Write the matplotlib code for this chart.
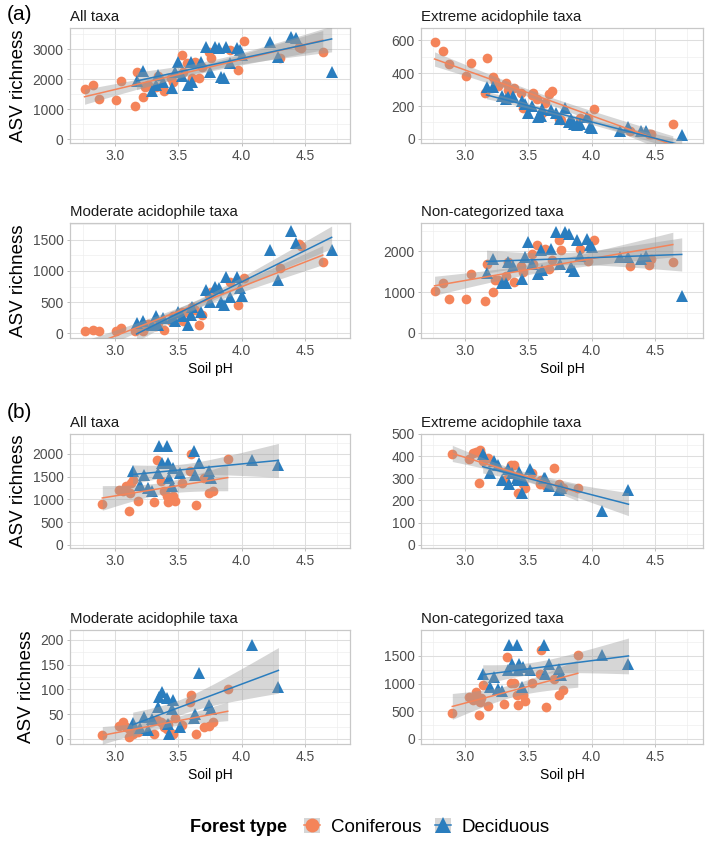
import numpy as np
import matplotlib.pyplot as plt
from matplotlib.patches import Rectangle
from matplotlib.lines import Line2D
from matplotlib.ticker import MultipleLocator

plt.rcParams['font.family'] = ['Liberation Sans', 'DejaVu Sans']

CONIF = "#F4845A"
DECID = "#2A7DBE"

# ---- (a) data ----
a_con_ph = [2.76, 2.83, 2.87, 3.01, 3.05, 3.16, 3.17, 3.22, 3.24, 3.26, 3.32, 3.34, 3.39, 3.44, 3.46, 3.53,
            3.54, 3.57, 3.61, 3.63, 3.66, 3.69, 3.74, 3.76, 3.91, 3.97, 4.02, 4.30, 4.45, 4.47, 4.64]
a_con_all = [1660, 1810, 1330, 1290, 1950, 1110, 2250, 1390, 1730, 1800, 1750, 2110, 1620, 2050, 1920, 2810,
             2250, 2550, 2030, 2590, 2030, 2400, 2920, 2700, 2980, 2310, 3290, 2700, 3090, 3050, 2920]
a_con_ext = [590, 535, 455, 385, 460, 280, 490, 375, 350, 320, 340, 300, 310, 280, 190, 270,
             280, 240, 160, 220, 275, 290, 120, 115, 125, 130, 180, 50, 30, 30, 90]
a_con_mod = [40, 60, 35, 40, 80, 40, 80, 40, 100, 150, 120, 170, 60, 200, 270, 350,
             190, 350, 430, 380, 130, 300, 620, 670, 830, 460, 890, 1050, 1430, 1400, 1140]
a_con_non = [1040, 1230, 840, 840, 1440, 790, 1690, 1010, 1310, 1290, 1400, 1730, 1260, 1650, 1500, 1940,
             1690, 2150, 1520, 2070, 1570, 1800, 2290, 2030, 2070, 1760, 2275, 1650, 1675, 1820, 1730]

a_dec_ph = [3.17, 3.22, 3.29, 3.32, 3.34, 3.38, 3.45, 3.47, 3.50, 3.53, 3.58, 3.60, 3.61, 3.68, 3.72,
            3.75, 3.79, 3.82, 3.84, 3.86, 3.88, 3.91, 3.96, 3.99, 4.00, 4.22, 4.29, 4.39, 4.43, 4.71]
a_dec_all = [1950, 2290, 1590, 1810, 2140, 1900, 1700, 2250, 2590, 2100, 1810, 2590, 1920, 2590, 3090,
             2250, 3090, 3030, 2090, 2030, 3090, 2530, 3030, 2975, 2800, 3250, 2750, 3420, 3370, 2250]
a_dec_ext = [315, 315, 260, 240, 255, 260, 230, 210, 160, 200, 135, 140, 180, 175, 160,
             120, 185, 105, 120, 90, 85, 90, 135, 75, 65, 45, 70, 45, 45, 25]
a_dec_mod = [160, 190, 135, 270, 135, 240, 240, 190, 350, 280, 135, 300, 420, 350, 700,
             510, 750, 725, 510, 450, 910, 590, 910, 725, 600, 1340, 860, 1640, 1450, 1340]
a_dec_non = [1480, 1815, 1230, 1230, 1730, 1650, 1320, 1860, 2230, 1700, 1440, 2025, 1550, 2070, 2480,
             1690, 2480, 2440, 1610, 1520, 2275, 1900, 2315, 2150, 2100, 1860, 1860, 1815, 1900, 900]

# ---- (b) data ----
b_con_ph = [2.90, 3.03, 3.06, 3.09, 3.11, 3.12, 3.13, 3.14, 3.18, 3.31, 3.33, 3.36, 3.39,
            3.41, 3.42, 3.46, 3.47, 3.53, 3.59, 3.60, 3.64, 3.70, 3.74, 3.77, 3.89]
b_con_all = [897, 1210, 1190, 1290, 735, 1140, 1360, 1433, 970, 933, 1874, 1396, 1176,
             1066, 933, 1066, 955, 1360, 1617, 2000, 882, 1470, 1140, 1176, 1896]
b_con_ext = [408, 385, 415, 420, 280, 426, 408, 378, 390, 294, 332, 362, 362,
             294, 234, 272, 257, 325, 272, 294, 265, 347, 272, 255, 254]
b_con_mod = [8, 27, 35, 25, 5, 18, 23, 11, 15, 11, 38, 35, 25,
             20, 30, 11, 42, 28, 75, 89, 11, 25, 27, 35, 100]
b_con_non = [462, 762, 702, 852, 432, 672, 732, 972, 600, 624, 1482, 1002, 1002,
             792, 612, 792, 684, 1002, 1182, 1602, 582, 1080, 792, 882, 1524]

b_dec_ph = [3.14, 3.20, 3.23, 3.26, 3.29, 3.34, 3.35, 3.37, 3.41, 3.42, 3.43, 3.45, 3.46, 3.51,
            3.62, 3.63, 3.66, 3.74, 3.76, 4.08, 4.29]
b_dec_all = [1617, 1323, 1544, 1250, 1190, 1580, 2168, 1800, 2168, 1800, 1470, 1286, 1690, 1580,
             2058, 1544, 1800, 1617, 1470, 1874, 1764]
b_dec_ext = [408, 325, 378, 360, 294, 340, 272, 325, 300, 294, 330, 234, 294, 340,
             302, 300, 264, 249, 255, 151, 249]
b_dec_mod = [32, 22, 45, 18, 40, 65, 85, 95, 82, 30, 11, 60, 79, 25,
             42, 50, 133, 69, 60, 190, 106]
b_dec_non = [1182, 942, 1122, 900, 864, 1242, 1704, 1362, 1704, 1242, 1362, 942, 1302, 1242,
             1692, 1182, 1362, 1272, 1152, 1512, 1362]

W, H = 709, 842


def t975(df):
    # Cornish-Fisher approximation of the 97.5% t quantile
    z = 1.959964
    return z + (z**3 + z) / (4 * df) + (5 * z**5 + 16 * z**3 + 3 * z) / (96 * df**2)


def lm_band(x, y):
    x = np.asarray(x, float)
    y = np.asarray(y, float)
    n = len(x)
    b, a = np.polyfit(x, y, 1)
    resid = y - (a + b * x)
    s = np.sqrt(np.sum(resid**2) / (n - 2))
    sxx = np.sum((x - x.mean())**2)
    xs = np.linspace(x.min(), x.max(), 80)
    fit = a + b * xs
    se = s * np.sqrt(1 / n + (xs - x.mean())**2 / sxx)
    t = t975(n - 2)
    return xs, fit, fit - t * se, fit + t * se


def add_ax(fig, left, top, right, bottom):
    return fig.add_axes([left / W, 1 - bottom / H, (right - left) / W, (bottom - top) / H])


def draw_panel(ax, title, cx, cy, dx, dy, xlim, ylim, ystep):
    ax.plot(cx, cy, 'o', color=CONIF, ms=7, mew=0, zorder=3)
    ax.plot(dx, dy, '^', color=DECID, ms=8.4, mew=0, zorder=3)
    for x, y, c in ((cx, cy, CONIF), (dx, dy, DECID)):
        xs, fit, lo, hi = lm_band(x, y)
        ax.fill_between(xs, lo, hi, color='#999999', alpha=0.4, lw=0, zorder=4)
        ax.plot(xs, fit, color=c, lw=1.1, zorder=5)

    ax.set_xlim(*xlim)
    ax.set_ylim(*ylim)
    ax.xaxis.set_major_locator(MultipleLocator(0.5))
    ax.xaxis.set_minor_locator(MultipleLocator(0.25))
    ax.yaxis.set_major_locator(MultipleLocator(ystep))
    ax.yaxis.set_minor_locator(MultipleLocator(ystep / 2))
    ax.xaxis.set_major_formatter(lambda v, p: f"{v:.1f}")
    ax.grid(which='major', color='#DEDEDE', lw=0.75, zorder=0)
    ax.grid(which='minor', color='#EEEEEE', lw=0.5, zorder=0)
    ax.set_axisbelow(True)
    for sp in ax.spines.values():
        sp.set_color('#C8C8C8')
        sp.set_linewidth(0.9)
    ax.tick_params(which='major', length=2.5, width=0.6, color='#B3B3B3',
                   labelsize=10, labelcolor='#4D4D4D', pad=2)
    ax.tick_params(which='minor', length=0)
    ax.set_title(title, loc='left', fontsize=10.8, pad=5, color='#1A1A1A')


fig = plt.figure(figsize=(W / 100, H / 100), dpi=100)

cols = [(70, 350, (2.645, 4.855)), (421, 703, (2.653, 4.878))]
rows = [(28, 143), (223, 338), (434, 548), (630, 744)]

panels = [
    ("All taxa", a_con_ph, a_con_all, a_dec_ph, a_dec_all, (-130, 3710), 1000),
    ("Extreme acidophile taxa", a_con_ph, a_con_ext, a_dec_ph, a_dec_ext, (-25, 675), 200),
    ("Moderate acidophile taxa", a_con_ph, a_con_mod, a_dec_ph, a_dec_mod, (-75, 1770), 500),
    ("Non-categorized taxa", a_con_ph, a_con_non, a_dec_ph, a_dec_non, (-125, 2700), 1000),
    ("All taxa", b_con_ph, b_con_all, b_dec_ph, b_dec_all, (-70, 2440), 500),
    ("Extreme acidophile taxa", b_con_ph, b_con_ext, b_dec_ph, b_dec_ext, (-15, 500), 100),
    ("Moderate acidophile taxa", b_con_ph, b_con_mod, b_dec_ph, b_dec_mod, (-10, 220), 50),
    ("Non-categorized taxa", b_con_ph, b_con_non, b_dec_ph, b_dec_non, (-95, 1970), 500),
]

for i, (title, cx, cy, dx, dy, ylim, ystep) in enumerate(panels):
    r, c = divmod(i, 2)
    left, right, xlim = cols[c]
    top, bottom = rows[r]
    ax = add_ax(fig, left, top, right, bottom)
    draw_panel(ax, title, cx, cy, dx, dy, xlim, ylim, ystep)
    if c == 0:
        ax.set_ylabel("ASV richness", fontsize=13.5, labelpad=4)
    if r in (1, 3):
        ax.set_xlabel("Soil pH", fontsize=10, labelpad=3)

fig.text(7 / W, 1 - 14 / H, "(a)", fontsize=15, va='center', ha='left')
fig.text(7 / W, 1 - 413 / H, "(b)", fontsize=15, va='center', ha='left')

# legend
fig.text(190 / W, 1 - 827 / H, "Forest type", fontsize=13, fontweight='bold', va='center', ha='left')
key = dict(facecolor='#D6D6D6', edgecolor='none')
h_con = (Rectangle((0, 0), 1, 1, **key),
         Line2D([], [], color=CONIF, marker='o', ms=10, mew=0, lw=1.1))
h_dec = (Rectangle((0, 0), 1, 1, **key),
         Line2D([], [], color=DECID, marker='^', ms=11, mew=0, lw=1.1))
fig.legend([h_con, h_dec], ["Coniferous", "Deciduous"], ncol=2, frameon=False,
           loc='center left', bbox_to_anchor=(304 / W, 1 - 827 / H), fontsize=13.5,
           handlelength=0.85, handleheight=0.85, handletextpad=0.6, columnspacing=0.7,
           borderpad=0, borderaxespad=0)

fig.savefig("out.png", dpi=100)
